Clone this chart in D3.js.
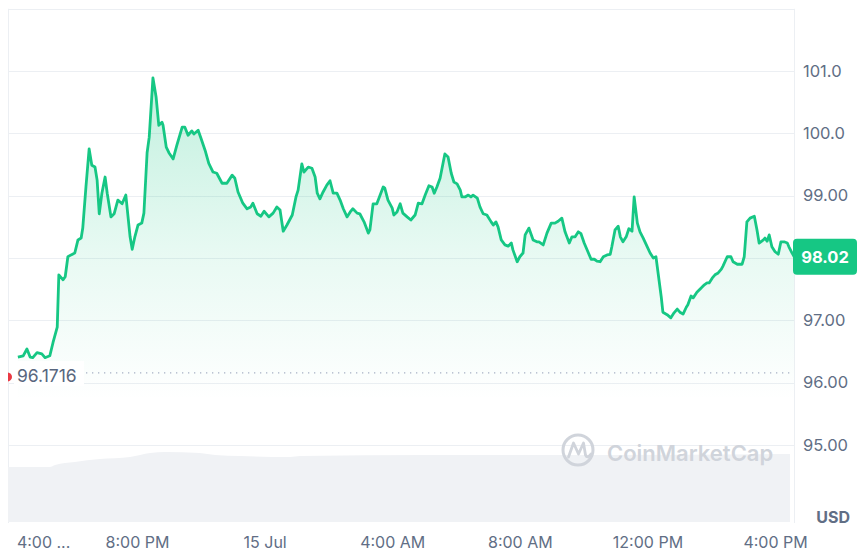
<!DOCTYPE html>
<html>
<head>
<meta charset="utf-8">
<script src="https://cdn.jsdelivr.net/npm/d3@7"></script>
<style>
  html, body { margin: 0; padding: 0; background: #ffffff; }
  svg { display: block; font-family: Inter, "Open Sans", sans-serif; }
</style>
</head>
<body>
<svg id="chart" width="861" height="555"></svg>
<script>
// ---------- DATA (minutes after 14 Jul 16:00, price in USD) ----------
const priceMinutes = [16,26,33,39,44,52,61,67,76,82,90,93,101,105,110,116,123,129,135,138,144,150,155,161,165,169,174,180,184,191,197,204,212,219,227,231,
  236,242,249,253,259,263,270,276,281,287,289,295,300,308,315,325,330,336,343,347,355,360,368,375,383,390,400,409,419,424,430,439,447,454,458,466,473,
  479,488,496,503,509,515,522,532,539,543,550,554,562,569,575,579,584,590,597,603,609,616,622,628,635,641,646,654,659,667,675,678,684,691,695,703,706,712,720,
  723,729,735,740,748,755,763,769,776,782,789,795,799,804,810,816,819,825,831,836,842,848,851,857,863,868,872,880,885,891,898,906,910,915,919,925,932,938,944,947,955,960,
  966,970,977,985,992,996,1004,1011,1019,1026,1032,1039,1045,1053,1058,1064,1070,1075,1081,1088,1094,1100,1105,1111,1117,1124,1130,1133,1139,1145,1149,1154,1160,1165,1171,1175,1181,1186,1192,1199,1205,
  1211,1216,1220,1226,1229,1237,1244,1250,1256,1261,1267,1273,1276,1282,1286,1293,1301,1307,1312,1316,1322,1327,1333,1339,1342,1350,1357,1361,1369,1378,1382,1387,1393,1401,1406,1410,1418,1421,1425,1429,1434,1440,1446,1451,1457,1463,1466,1472,1476];
const priceValues = [96.41,96.43,96.54,96.41,96.40,96.48,96.46,96.40,96.43,96.64,96.89,97.73,97.65,97.70,98.02,98.05,98.08,98.29,98.32,98.48,99.14,99.75,99.49,99.46,99.25,98.71,99.04,99.30,99.04,98.66,98.71,98.93,98.87,99.01,98.34,98.14,
  98.34,98.53,98.56,98.72,99.69,99.94,100.89,100.58,100.13,100.18,100.13,99.78,99.69,99.59,99.81,100.10,100.10,99.97,100.04,99.99,100.05,99.93,99.73,99.52,99.38,99.36,99.20,99.20,99.33,99.28,99.06,98.88,98.79,98.82,98.88,98.71,98.67,
  98.75,98.66,98.72,98.82,98.77,98.43,98.53,98.69,98.98,99.09,99.51,99.38,99.46,99.44,99.30,99.04,98.95,99.06,99.17,99.24,99.04,99.04,98.93,98.79,98.66,98.74,98.79,98.72,98.71,98.58,98.40,98.45,98.87,98.87,98.96,99.14,99.12,98.93,98.80,
  98.69,98.74,98.87,98.72,98.66,98.61,98.69,98.88,98.87,99.01,99.16,99.14,99.04,99.14,99.28,99.54,99.67,99.62,99.36,99.22,99.19,99.09,98.98,98.98,99.01,98.98,99.01,98.96,98.82,98.71,98.69,98.58,98.53,98.58,98.50,98.29,98.21,98.19,98.24,98.13,97.94,98.02,
  98.08,98.37,98.48,98.29,98.26,98.26,98.21,98.40,98.56,98.56,98.59,98.64,98.42,98.24,98.34,98.34,98.42,98.39,98.24,98.10,97.98,97.98,97.95,97.94,98.02,98.05,98.06,98.18,98.45,98.51,98.34,98.26,98.34,98.47,98.43,98.98,98.56,98.42,98.32,98.19,98.08,
  98.00,98.02,97.76,97.37,97.13,97.09,97.04,97.12,97.18,97.13,97.10,97.21,97.25,97.39,97.36,97.45,97.52,97.57,97.60,97.60,97.68,97.73,97.76,97.82,97.87,98.02,98.02,97.94,97.90,97.90,98.02,98.58,98.64,98.67,98.45,98.24,98.29,98.32,98.27,98.37,98.18,98.10,98.06,98.26,98.26,98.24,98.18,98.08,98.02];

const volumeMinutes = [-3,76,86,123,170,227,265,293,358,387,434,528,547,791,1111,1468];
const volumeValues  = [55,55,57,60,63,65,69,70,69,67,66,65,66,67,67,68];

// 98.00 is hidden under the last-price tag in the reference, so it is not labelled
const yTickValues = [95,96,97,99,100,101];
const yTickLabels = ["95.00","96.00","97.00","99.00","100.0","101.0"];
const gridValues = [95,96,97,98,99,100,101,102];
const xTickMinutes = [0,240,480,720,960,1200,1440];
const xTickLabels = ["4:00 ...","8:00 PM","15 Jul","4:00 AM","8:00 AM","12:00 PM","4:00 PM"];

const openPrice = 96.1716;
const openLabel = "96.1716";
const lastPrice = 98.02;
const lastLabel = "98.02";
const unitLabel = "USD";
const watermark = "CoinMarketCap";

// ---------- SETUP ----------
const base = Date.UTC(2024, 6, 14, 16, 0);
const toDate = m => new Date(base + m * 60000);

const L = 8, R = 794, T = 8.8;
const svg = d3.select("#chart");

const x = d3.scaleUtc().domain([toDate(-2.6), toDate(1475.6)]).range([L, R]);
const y = d3.scaleLinear().domain([94, 102]).range([507.2, T]);
const yVol = d3.scaleLinear().domain([0, 75]).range([522, 447]);

const price = priceMinutes.map((m, i) => ({ t: toDate(m), v: priceValues[i] }));
const vol = volumeMinutes.map((m, i) => ({ t: toDate(m), v: volumeValues[i] }));

const defs = svg.append("defs");
const grad = defs.append("linearGradient").attr("id", "fillGrad")
  .attr("gradientUnits", "userSpaceOnUse").attr("x1", 0).attr("x2", 0).attr("y1", 75).attr("y2", 400);
grad.append("stop").attr("offset", 0).attr("stop-color", "#16c784").attr("stop-opacity", 0.27);
grad.append("stop").attr("offset", 0.55).attr("stop-color", "#16c784").attr("stop-opacity", 0.1);
grad.append("stop").attr("offset", 1).attr("stop-color", "#16c784").attr("stop-opacity", 0.0);
defs.append("clipPath").attr("id", "plotClip").append("rect")
  .attr("x", L).attr("y", 0).attr("width", R - L).attr("height", 530);

// ---------- GRID ----------
svg.append("g").selectAll("line").data(gridValues).join("line")
  .attr("x1", L).attr("x2", R)
  .attr("y1", d => Math.round(y(d)) + 0.5).attr("y2", d => Math.round(y(d)) + 0.5)
  .attr("stroke", "#eceff3").attr("stroke-width", 1);
svg.append("line").attr("x1", L + 0.5).attr("x2", L + 0.5).attr("y1", T).attr("y2", 523)
  .attr("stroke", "#eceff3");
svg.append("line").attr("x1", R + 0.5).attr("x2", R + 0.5).attr("y1", T).attr("y2", 523)
  .attr("stroke", "#eceff3");

// ---------- VOLUME ----------
const volArea = d3.area().x(d => x(d.t)).y0(yVol(0)).y1(d => yVol(d.v)).curve(d3.curveMonotoneX);
svg.append("path").datum(vol).attr("d", volArea).attr("fill", "#f0f2f5")
  .attr("clip-path", "url(#plotClip)");

// ---------- WATERMARK ----------
const wm = svg.append("g");
wm.append("circle").attr("cx", 578).attr("cy", 450).attr("r", 15)
  .attr("fill", "none").attr("stroke", "#d0d4db").attr("stroke-width", 3);
wm.append("path").attr("d", "M568.5,457 L573.5,443 L578.5,454 L583.5,443 L585.5,455 Q587.5,459 591,454")
  .attr("fill", "none").attr("stroke", "#d0d4db").attr("stroke-width", 2.8).attr("stroke-linejoin", "round").attr("stroke-linecap", "round");
wm.append("text").attr("x", 607).attr("y", 461).text(watermark)
  .attr("font-size", 22).attr("font-weight", 600).attr("fill", "#d0d4db");

// ---------- PRICE AREA + LINE ----------
const area = d3.area().x(d => x(d.t)).y0(y(94.9)).y1(d => y(d.v));
svg.append("path").datum(price).attr("d", area).attr("fill", "url(#fillGrad)");
const line = d3.line().x(d => x(d.t)).y(d => y(d.v));
svg.append("path").datum(price).attr("d", line).attr("fill", "none")
  .attr("stroke", "#16c784").attr("stroke-width", 2.8).attr("stroke-linejoin", "round");

// ---------- OPEN PRICE REFERENCE ----------
const yOpen = y(openPrice);
svg.append("line").attr("x1", 86).attr("x2", R - 2).attr("y1", yOpen + 1).attr("y2", yOpen + 1)
  .attr("stroke", "#a6b0c3").attr("stroke-width", 1.3).attr("stroke-dasharray", "1.3,4.7");
svg.append("rect").attr("x", 14).attr("y", yOpen - 11).attr("width", 70).attr("height", 25).attr("fill", "#ffffff");
svg.append("text").attr("x", 17).attr("y", yOpen + 10.5).text(openLabel)
  .attr("font-size", 17.5).attr("fill", "#58667e");
svg.append("circle").attr("cx", 7.5).attr("cy", yOpen + 5).attr("r", 4.5).attr("fill", "#ea3943")
  .attr("clip-path", "url(#plotClip)");

// ---------- Y AXIS ----------
const yAxis = d3.axisRight(y).tickValues(yTickValues).tickSize(0).tickPadding(9)
  .tickFormat((d, i) => yTickLabels[i]);
const gy = svg.append("g").attr("transform", `translate(${R},0)`).call(yAxis);
gy.select(".domain").remove();
gy.selectAll("text").attr("font-size", 16.5).attr("fill", "#616e85").attr("font-family", "Inter, sans-serif");

// last price tag
const yLast = y(lastPrice);
svg.append("rect").attr("x", 793).attr("y", yLast - 18).attr("width", 64).attr("height", 36)
  .attr("rx", 4).attr("fill", "#16c784");
svg.append("text").attr("x", 825).attr("y", yLast + 6).attr("text-anchor", "middle").text(lastLabel)
  .attr("font-size", 16.5).attr("font-weight", 700).attr("fill", "#ffffff");

svg.append("text").attr("x", 850).attr("y", 523).attr("text-anchor", "end").text(unitLabel)
  .attr("font-size", 16).attr("font-weight", 700).attr("fill", "#616e85");

// ---------- X AXIS ----------
const xAxis = d3.axisBottom(x).tickValues(xTickMinutes.map(toDate)).tickSize(0).tickPadding(0)
  .tickFormat((d, i) => xTickLabels[i]);
const gx = svg.append("g").attr("transform", "translate(0,537)").call(xAxis);
gx.select(".domain").remove();
gx.selectAll("text").attr("font-size", 16).attr("fill", "#616e85").attr("dy", "0.71em")
  .attr("font-family", "Inter, sans-serif");
gx.selectAll("text").filter((d, i) => i === 0).attr("text-anchor", "start").attr("x", 7);
</script>
</body>
</html>
